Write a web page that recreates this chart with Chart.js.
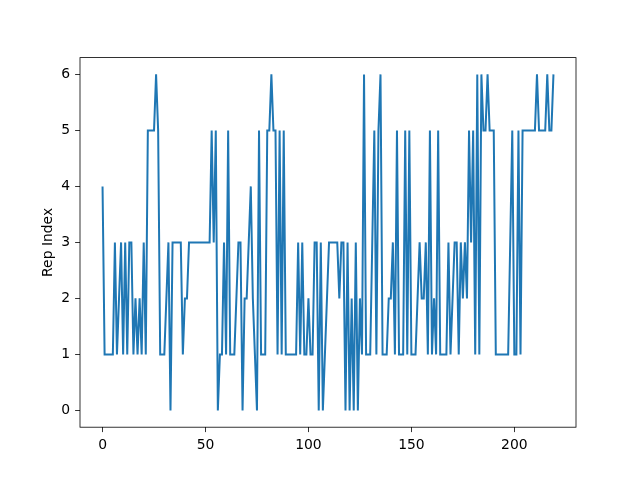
<!DOCTYPE html>
<html>
<head>
<meta charset="utf-8">
<script src="https://cdn.jsdelivr.net/npm/chart.js@4/dist/chart.umd.min.js"></script>
<style>
  html, body { margin: 0; padding: 0; background: #ffffff; }
  #wrap { width: 640px; height: 480px; }
</style>
</head>
<body>
<div id="wrap"><canvas id="repChart" width="640" height="480"></canvas></div>
<script>
const repValues = [
  4, 1, 1, 1, 1, 1, 3, 1, 2, 3, 1, 3, 1, 3, 3, 1, 2, 1, 2, 1,
  3, 1, 5, 5, 5, 5, 6, 5, 1, 1, 1, 2, 3, 0, 3, 3, 3, 3, 3, 1,
  2, 2, 3, 3, 3, 3, 3, 3, 3, 3, 3, 3, 3, 5, 3, 5, 0, 1, 1, 3,
  1, 5, 1, 1, 1, 2, 3, 3, 0, 2, 2, 3, 4, 2, 1, 0, 5, 1, 1, 1,
  5, 5, 6, 5, 5, 1, 5, 1, 5, 1, 1, 1, 1, 1, 1, 3, 1, 3, 1, 1,
  2, 1, 1, 3, 3, 0, 3, 0, 1, 2, 3, 3, 3, 3, 3, 2, 3, 3, 0, 3,
  0, 2, 0, 3, 0, 2, 1, 6, 1, 1, 1, 3, 5, 1, 5, 6, 1, 1, 1, 2,
  2, 3, 1, 5, 1, 1, 1, 5, 1, 5, 1, 1, 1, 2, 3, 2, 2, 3, 1, 5,
  1, 2, 1, 5, 1, 1, 1, 1, 3, 1, 2, 3, 3, 1, 3, 2, 3, 2, 5, 3,
  5, 1, 6, 1, 6, 5, 5, 6, 5, 5, 5, 1, 1, 1, 1, 1, 1, 1, 3, 5,
  1, 1, 5, 1, 5, 5, 5, 5, 5, 5, 5, 6, 5, 5, 5, 5, 6, 5, 5, 6
];
const xTicks = [0, 50, 100, 150, 200];
const yTicks = [0, 1, 2, 3, 4, 5, 6];
const yTitle = "Rep Index";

const points = repValues.map(function (v, i) {
  return { x: i, y: v };
});

const xPad = (repValues.length - 1) * 0.05;

const frame = {
  id: "frame",
  afterDraw(chart) {
    const a = chart.chartArea;
    const ctx = chart.ctx;
    ctx.save();
    ctx.strokeStyle = "#000000";
    ctx.lineWidth = 0.8;
    ctx.strokeRect(a.left, a.top, a.right - a.left, a.bottom - a.top);
    ctx.restore();
  }
};

new Chart(document.getElementById("repChart").getContext("2d"), {
  type: "line",
  data: {
    datasets: [
      {
        data: points,
        borderColor: "#1f77b4",
        borderWidth: 2,
        pointRadius: 0,
        tension: 0,
        fill: false
      }
    ]
  },
  options: {
    responsive: false,
    animation: false,
    layout: { padding: { left: 0, right: 64, top: 57.6, bottom: 0 } },
    plugins: { legend: { display: false }, tooltip: { enabled: false } },
    scales: {
      x: {
        type: "linear",
        min: -xPad,
        max: repValues.length - 1 + xPad,
        afterBuildTicks: function (scale) {
          scale.ticks = xTicks.map(function (v) { return { value: v }; });
        },
        afterFit: function (scale) { scale.height = 52.8; },
        grid: { drawOnChartArea: false, drawTicks: true, tickLength: 4.9, color: "#000000", lineWidth: 0.8 },
        border: { display: false },
        ticks: { color: "#000000", padding: 4.9, maxRotation: 0, font: { family: "DejaVu Sans", size: 13.9 } }
      },
      y: {
        type: "linear",
        min: -0.3,
        max: 6.3,
        afterBuildTicks: function (scale) {
          scale.ticks = yTicks.map(function (v) { return { value: v }; });
        },
        afterFit: function (scale) { scale.width = 80; },
        grid: { drawOnChartArea: false, drawTicks: true, tickLength: 4.9, color: "#000000", lineWidth: 0.8 },
        border: { display: false },
        ticks: { color: "#000000", padding: 4.9, font: { family: "DejaVu Sans", size: 13.9 } },
        title: {
          display: true,
          text: yTitle,
          color: "#000000",
          padding: { top: 40, bottom: 0 },
          font: { family: "DejaVu Sans", size: 13.9 }
        }
      }
    }
  },
  plugins: [frame]
});
</script>
</body>
</html>
